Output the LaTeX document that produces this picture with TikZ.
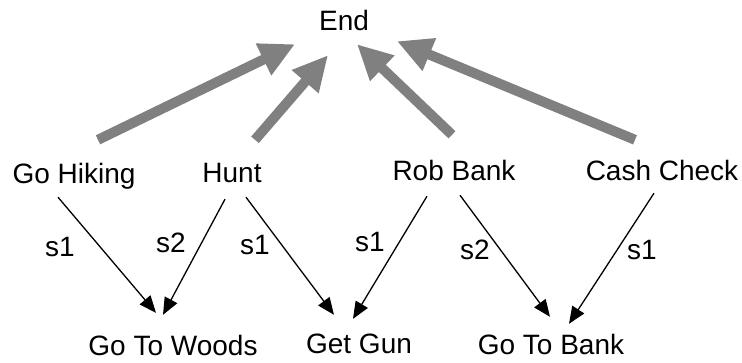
\documentclass[tikz,border=0pt]{standalone}
\usepackage{fontspec}
\setmainfont{Liberation Sans}
\usetikzlibrary{arrows.meta}

\begin{document}
\begin{tikzpicture}[x=1pt, y=1pt,
                        task/.style={anchor=base, inner sep=0pt, text height=20pt, text depth=6pt, font=\fontsize{28}{32}\selectfont},
                        slot/.style={anchor=base, inner sep=0pt, font=\fontsize{28}{32}\selectfont},
                        toend/.style={line width=10pt, draw=gray, -{Triangle[length=35pt,width=33pt]}},
                        sub/.style={line width=1.3pt, -{Triangle[length=17pt,width=14pt]}}]
                        \useasboundingbox (0,0) rectangle (742,-362);

                        \node [task] (end) at (344,-30) {End};

                        \node [task] (hike) at (74,-183) {Go Hiking};
                        \node [task] (hunt) at (232,-182) {Hunt};
                        \node [task] (rob) at (454,-180) {Rob Bank};
                        \node [task] (cash) at (662,-180) {Cash Check};

                        \node [task] (woods) at (173,-355) {Go To Woods};
                        \node [task] (gun) at (359,-353) {Get Gun};
                        \node [task] (bank) at (551,-354) {Go To Bank};

                        % gray arrows up to End
                        \draw [toend] ([xshift=24pt,yshift=23pt]hike.north) -- ([xshift=-49pt,yshift=-8pt]end.south);
                        \draw [toend] ([xshift=23pt,yshift=22pt]hunt.north) -- ([xshift=-16pt,yshift=-19pt]end.south);
                        \draw [toend] ([xshift=-2pt,yshift=25pt]rob.north) -- ([xshift=13pt,yshift=-8pt]end.south);
                        \draw [toend] ([xshift=-27pt,yshift=20pt]cash.north) -- ([xshift=53pt,yshift=-5pt]end.south);

                        % subtasks
                        \draw [sub] ([xshift=-16pt,yshift=-8pt]hike.south) -- ([xshift=-17pt,yshift=22pt]woods.north);
                        \draw [sub] ([xshift=-7pt,yshift=-11pt]hunt.south) -- ([xshift=-10pt,yshift=20pt]woods.north);
                        \draw [sub] ([xshift=14pt,yshift=-9pt]hunt.south) -- ([xshift=-25pt,yshift=18pt]gun.north);
                        \draw [sub] ([xshift=-27pt,yshift=-10pt]rob.south) -- ([xshift=-6pt,yshift=14pt]gun.north);
                        \draw [sub] ([xshift=6pt,yshift=-9pt]rob.south) -- ([xshift=-1pt,yshift=17pt]bank.north);
                        \draw [sub] ([xshift=-8pt,yshift=-7pt]cash.south) -- ([xshift=18pt,yshift=10pt]bank.north);

                        \node [slot] (hs1) at (60,-256) {s1};
                        \node [slot] (us2) at (171,-252) {s2};
                        \node [slot] (us1) at (255,-254) {s1};
                        \node [slot] (rs1) at (370,-251) {s1};
                        \node [slot] (rs2) at (475,-259) {s2};
                        \node [slot] (cs1) at (642,-259) {s1};
                    \end{tikzpicture}
\end{document}
